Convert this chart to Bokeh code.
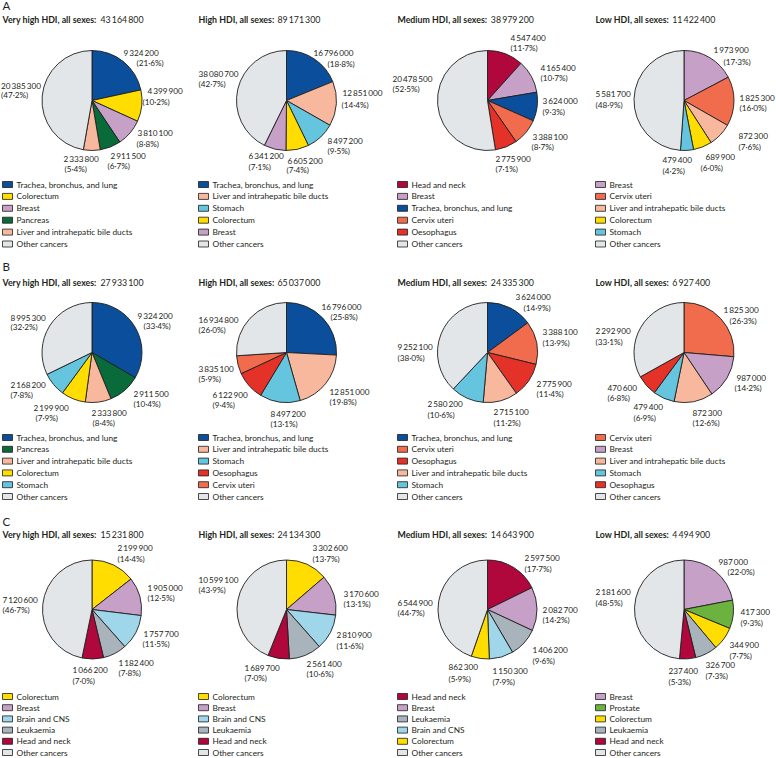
import math
from bokeh.plotting import figure
from bokeh.models import ColumnDataSource
from bokeh.embed import file_html
from bokeh.resources import INLINE
from bokeh.core.properties import value

# ---------------- data ----------------
panel_letters = ["A", "B", "C"]
hdi_levels = ["Very high HDI", "High HDI", "Medium HDI", "Low HDI"]

A_totals = [43164800, 89171300, 38979200, 11422400]
A_vh_cats = ["Trachea, bronchus, and lung", "Colorectum", "Breast", "Pancreas", "Liver and intrahepatic bile ducts", "Other cancers"]
A_vh_vals = [9324200, 4399900, 3810100, 2911500, 2333800, 20385300]
A_vh_pct = [21.6, 10.2, 8.8, 6.7, 5.4, 47.2]
A_hi_cats = ["Trachea, bronchus, and lung", "Liver and intrahepatic bile ducts", "Stomach", "Colorectum", "Breast", "Other cancers"]
A_hi_vals = [16796000, 12851000, 8497200, 6605200, 6341200, 38080700]
A_hi_pct = [18.8, 14.4, 9.5, 7.4, 7.1, 42.7]
A_me_cats = ["Head and neck", "Breast", "Trachea, bronchus, and lung", "Cervix uteri", "Oesophagus", "Other cancers"]
A_me_vals = [4547400, 4165400, 3624000, 3388100, 2775900, 20478500]
A_me_pct = [11.7, 10.7, 9.3, 8.7, 7.1, 52.5]
A_lo_cats = ["Breast", "Cervix uteri", "Liver and intrahepatic bile ducts", "Colorectum", "Stomach", "Other cancers"]
A_lo_vals = [1973900, 1825300, 872300, 689900, 479400, 5581700]
A_lo_pct = [17.3, 16.0, 7.6, 6.0, 4.2, 48.9]

B_totals = [27933100, 65037000, 24335300, 6927400]
B_vh_cats = ["Trachea, bronchus, and lung", "Pancreas", "Liver and intrahepatic bile ducts", "Colorectum", "Stomach", "Other cancers"]
B_vh_vals = [9324200, 2911500, 2333800, 2199900, 2168200, 8995300]
B_vh_pct = [33.4, 10.4, 8.4, 7.9, 7.8, 32.2]
B_hi_cats = ["Trachea, bronchus, and lung", "Liver and intrahepatic bile ducts", "Stomach", "Oesophagus", "Cervix uteri", "Other cancers"]
B_hi_vals = [16796000, 12851000, 8497200, 6122900, 3835100, 16934800]
B_hi_pct = [25.8, 19.8, 13.1, 9.4, 5.9, 26.0]
B_me_cats = ["Trachea, bronchus, and lung", "Cervix uteri", "Oesophagus", "Liver and intrahepatic bile ducts", "Stomach", "Other cancers"]
B_me_vals = [3624000, 3388100, 2775900, 2715100, 2580200, 9252100]
B_me_pct = [14.9, 13.9, 11.4, 11.2, 10.6, 38.0]
B_lo_cats = ["Cervix uteri", "Breast", "Liver and intrahepatic bile ducts", "Stomach", "Oesophagus", "Other cancers"]
B_lo_vals = [1825300, 987000, 872300, 479400, 470600, 2292900]
B_lo_pct = [26.3, 14.2, 12.6, 6.9, 6.8, 33.1]

C_totals = [15231800, 24134300, 14643900, 4494900]
C_vh_cats = ["Colorectum", "Breast", "Brain and CNS", "Leukaemia", "Head and neck", "Other cancers"]
C_vh_vals = [2199900, 1905000, 1757700, 1182400, 1066200, 7120600]
C_vh_pct = [14.4, 12.5, 11.5, 7.8, 7.0, 46.7]
C_hi_cats = ["Colorectum", "Breast", "Brain and CNS", "Leukaemia", "Head and neck", "Other cancers"]
C_hi_vals = [3302600, 3170600, 2810900, 2561400, 1689700, 10599100]
C_hi_pct = [13.7, 13.1, 11.6, 10.6, 7.0, 43.9]
C_me_cats = ["Head and neck", "Breast", "Leukaemia", "Brain and CNS", "Colorectum", "Other cancers"]
C_me_vals = [2597500, 2082700, 1406200, 1150300, 862300, 6544900]
C_me_pct = [17.7, 14.2, 9.6, 7.9, 5.9, 44.7]
C_lo_cats = ["Breast", "Prostate", "Colorectum", "Leukaemia", "Head and neck", "Other cancers"]
C_lo_vals = [987000, 417300, 344900, 326700, 237400, 2181600]
C_lo_pct = [22.0, 9.3, 7.7, 7.3, 5.3, 48.5]

colors = {
    "Trachea, bronchus, and lung": "#0b4f9c",
    "Colorectum": "#ffdd00",
    "Breast": "#c7a0c7",
    "Pancreas": "#0a6b3a",
    "Liver and intrahepatic bile ducts": "#f7b89d",
    "Stomach": "#66c5de",
    "Head and neck": "#b0083c",
    "Cervix uteri": "#f06c4c",
    "Oesophagus": "#e43228",
    "Brain and CNS": "#9fd6ea",
    "Leukaemia": "#a9b3bb",
    "Prostate": "#6cb23f",
    "Other cancers": "#e3e6e9",
}

panels = [
    (A_totals, [(A_vh_cats, A_vh_vals, A_vh_pct), (A_hi_cats, A_hi_vals, A_hi_pct),
                (A_me_cats, A_me_vals, A_me_pct), (A_lo_cats, A_lo_vals, A_lo_pct)]),
    (B_totals, [(B_vh_cats, B_vh_vals, B_vh_pct), (B_hi_cats, B_hi_vals, B_hi_pct),
                (B_me_cats, B_me_vals, B_me_pct), (B_lo_cats, B_lo_vals, B_lo_pct)]),
    (C_totals, [(C_vh_cats, C_vh_vals, C_vh_pct), (C_hi_cats, C_hi_vals, C_hi_pct),
                (C_me_cats, C_me_vals, C_me_pct), (C_lo_cats, C_lo_vals, C_lo_pct)]),
]

# ---------------- layout (page pixels, y downwards) ----------------
W, H = 776, 758
FONT = "Lato"
TXT = "#231f20"
col_x0 = [2, 198, 397, 595]
pie_cx = [91.5, 286, 487, 683.5]
row_letter_y = [5, 266, 521]
row_title_y = [19, 282, 534]
row_pie_y = [100, 352, 609]
row_leg_y = [184, 437, 696]
row_leg_dy = [11.9, 11.8, 11.2]
pie_r = [50, 50, 49.5]
LBL_FS = 8.2
LEG_FS = 8.3
TTL_FS = 8.8

# hand placed value labels: (number x, number y, percentage x, percentage y)
label_layout = [
    [
        [(123, 52, 136, 62), (147, 90, 142, 101), (137, 132, 136, 143), (110, 155, 107, 165), (63, 158, 64, 168), (0.5, 85, 0.5, 94)],
        [(313, 52, 327, 63), (342, 92, 341, 104), (327, 140, 327, 150), (287, 160, 286, 169), (248, 155, 248, 166), (198, 73, 198, 83)],
        [(510, 37, 510, 47), (540, 67, 540, 77), (542, 100, 542, 111), (532, 136, 531, 146), (495, 158, 495, 168), (392, 78, 392, 88)],
        [(713, 49, 723, 61), (739, 97, 739, 107), (738, 135, 738, 146), (705, 156, 700, 167), (662, 159, 662, 170), (595, 93, 595, 104)],
    ],
    [
        [(137, 315, 143, 325), (133, 393, 133, 403), (91, 412, 92, 422), (33, 407, 35, 417), (10, 384, 10, 394), (10, 317, 10, 326)],
        [(321, 306, 330, 316), (329, 391, 329, 401), (270, 413, 270, 423), (212, 394, 212, 404), (198, 368, 198, 378), (198, 319, 198, 329)],
        [(515, 296, 523, 307), (542, 331, 542, 342), (536, 383, 536, 393), (493, 411, 493, 422), (427, 403, 427, 414), (397, 346, 397, 357)],
        [(723, 309, 729, 320), (736, 377, 734, 387), (692, 412, 692, 422), (633, 406, 633, 417), (607, 387, 607, 397), (595, 330, 595, 341)],
    ],
    [
        [(117, 547, 117, 558), (147, 587, 147, 597), (143, 633, 142, 643), (118, 662, 118, 672), (72, 669, 72, 680), (2, 599, 2, 609)],
        [(312, 547, 312, 558), (343, 593, 343, 603), (336, 634, 336, 645), (306, 663, 306, 673), (244, 667, 244, 677), (198, 579, 198, 589)],
        [(524, 557, 524, 568), (542, 609, 542, 619), (532, 649, 532, 660), (492, 670, 492, 681), (448, 666, 448, 678), (397, 602, 397, 612)],
        [(718, 561, 727, 571), (740, 611, 740, 622), (729, 644, 729, 655), (705, 664, 705, 675), (668, 670, 668, 681), (595, 591, 595, 602)],
    ],
]


def X(xi):
    return xi


def Y(yi):
    return H - yi


def fmt_num(v):
    return f"{v:,}".replace(",", "\u2009")


def fmt_pct(p):
    return f"({p:.1f}%)".replace(".", "\u00b7")


BOLD_W = {" ": 0.2, ",": 0.24, ":": 0.26, "H": 0.75, "D": 0.75, "I": 0.3, "V": 0.68, "L": 0.55, "M": 0.9,
          "a": 0.5, "e": 0.52, "r": 0.37, "y": 0.5, "h": 0.57, "i": 0.26, "g": 0.52, "l": 0.26,
          "s": 0.42, "x": 0.5, "d": 0.57, "u": 0.57, "m": 0.86, "o": 0.56, "w": 0.76}


def bold_width(s, fs):
    return sum(BOLD_W.get(ch, 0.55) for ch in s) * fs * 1.04


p = figure(width=W, height=H, x_range=(0, W), y_range=(0, H),
           output_backend="svg", toolbar_location=None, min_border=0,
           x_axis_type=None, y_axis_type=None)
p.grid.visible = False
p.outline_line_color = None
p.background_fill_color = "white"
p.border_fill_color = "white"

wx, wy, wr, ws, we, wc = [], [], [], [], [], []
lab = dict(x=[], y=[], t=[])
leg_box = dict(x=[], y=[], c=[])
leg_txt = dict(x=[], y=[], t=[])
ttl_b = dict(x=[], y=[], t=[])
ttl_n = dict(x=[], y=[], t=[])
let = dict(x=[], y=[], t=[])

for r, (totals, pies) in enumerate(panels):
    let["x"].append(X(col_x0[0]))
    let["y"].append(Y(row_letter_y[r]))
    let["t"].append(panel_letters[r])
    for c, (cats, vals, pcts) in enumerate(pies):
        x0 = col_x0[c]
        cx, cy = pie_cx[c], row_pie_y[r]
        # title: bold group name, regular total
        prefix = f"{hdi_levels[c]}, all sexes:"
        ttl_b["x"].append(X(x0)); ttl_b["y"].append(Y(row_title_y[r])); ttl_b["t"].append(prefix)
        ttl_n["x"].append(X(x0 + bold_width(prefix, TTL_FS) + 2))
        ttl_n["y"].append(Y(row_title_y[r])); ttl_n["t"].append(fmt_num(totals[c]))
        # wedges, clockwise from 12 o'clock
        tot = float(sum(vals))
        cum = 0.0
        for k, (cat, v, pc) in enumerate(zip(cats, vals, pcts)):
            f0, f1 = cum / tot, (cum + v) / tot
            cum += v
            wx.append(X(cx)); wy.append(Y(cy)); wr.append(pie_r[r])
            ws.append(math.pi / 2 - 2 * math.pi * f1)
            we.append(math.pi / 2 - 2 * math.pi * f0)
            wc.append(colors[cat])
            nx, ny, px, py = label_layout[r][c][k]
            lab["x"] += [X(nx), X(px)]
            lab["y"] += [Y(ny), Y(py)]
            lab["t"] += [fmt_num(v), fmt_pct(pc)]
        # legend
        for i, cat in enumerate(cats):
            ly = row_leg_y[r] + i * row_leg_dy[r]
            leg_box["x"].append(X(x0 + 5)); leg_box["y"].append(Y(ly)); leg_box["c"].append(colors[cat])
            leg_txt["x"].append(X(x0 + 14)); leg_txt["y"].append(Y(ly)); leg_txt["t"].append(cat)

p.wedge(x="x", y="y", radius="r", start_angle="s", end_angle="e", fill_color="c",
        line_color="#1e1e1e", line_width=0.9,
        source=ColumnDataSource(dict(x=wx, y=wy, r=wr, s=ws, e=we, c=wc)))

p.rect(x="x", y="y", width=10, height=6, fill_color="c", line_color="#1e1e1e", line_width=0.8,
       source=ColumnDataSource(leg_box))

p.text(x="x", y="y", text="t", source=ColumnDataSource(lab), text_font=value(FONT),
       text_font_size=value(f"{LBL_FS}px"), text_align="left", text_baseline="middle", text_color=TXT)
p.text(x="x", y="y", text="t", source=ColumnDataSource(leg_txt), text_font=value(FONT),
       text_font_size=value(f"{LEG_FS}px"), text_align="left", text_baseline="middle", text_color=TXT)
p.text(x="x", y="y", text="t", source=ColumnDataSource(ttl_b), text_font=value(FONT),
       text_font_size=value(f"{TTL_FS}px"), text_font_style="bold", text_align="left",
       text_baseline="middle", text_color=TXT)
p.text(x="x", y="y", text="t", source=ColumnDataSource(ttl_n), text_font=value(FONT),
       text_font_size=value(f"{TTL_FS}px"), text_align="left", text_baseline="middle", text_color=TXT)
p.text(x="x", y="y", text="t", source=ColumnDataSource(let), text_font=value(FONT),
       text_font_size=value("11.5px"), text_align="left", text_baseline="middle", text_color=TXT)

open("out.html", "w").write(file_html(p, INLINE))
